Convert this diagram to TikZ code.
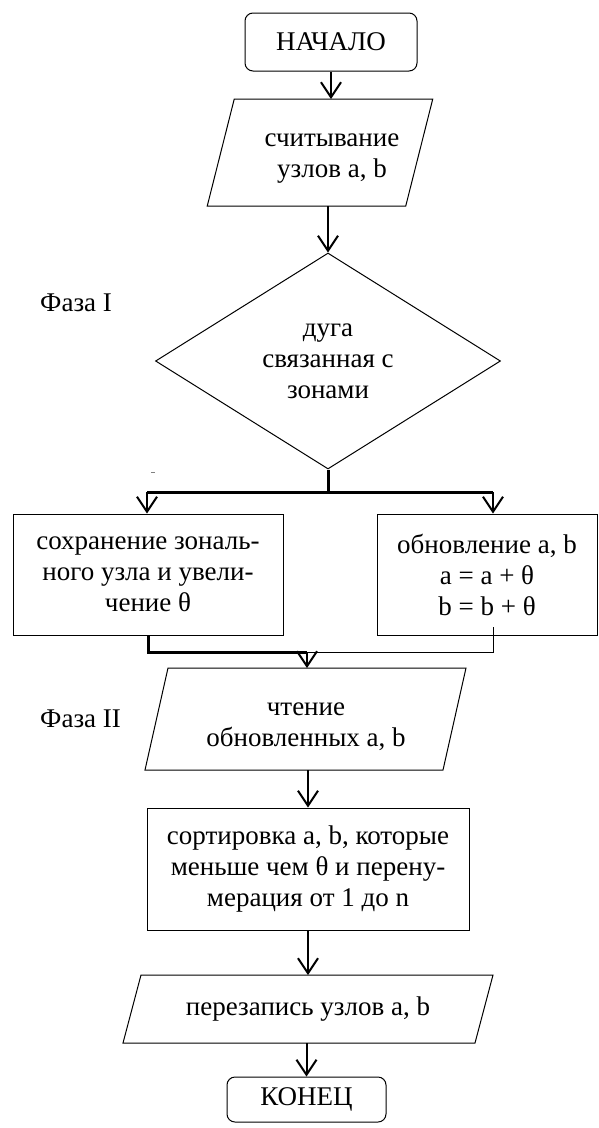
\documentclass[tikz,border=0pt]{standalone}
\usepackage{fontspec}
\setmainfont{Liberation Serif}
\usepackage{tikz}
\usetikzlibrary{arrows.meta,shapes.geometric}

% slanted frame round an io body node: name, half slant
\newcommand\ioframe[2]{\draw[line width=1pt] ([xshift=#2]#1.north west) -- ([xshift=#2]#1.north east)
  -- ([xshift=-#2]#1.south east) -- ([xshift=-#2]#1.south west) -- cycle;}

\begin{document}
\begin{tikzpicture}[x=1pt,y=-1pt,font=\fontsize{27pt}{31pt}\selectfont,
  every node/.style={inner sep=2pt,align=center},
  term/.style={draw,rectangle,rounded corners=8pt,line width=1pt},
  io/.style={rectangle,outer sep=0pt},
  proc/.style={draw,rectangle,line width=1pt},
  cond/.style={draw,diamond,shape aspect=1.6,inner sep=0pt,line width=1pt},
  flow/.style={line width=2pt,-{Straight Barb[length=15pt,width=20pt]}},
  bus/.style={line width=3pt},
  thinbus/.style={line width=1pt}]
\useasboundingbox (0,0) rectangle (598,1128);

\node[term,minimum width=172pt,minimum height=58pt] (start) at (331,42) {НАЧАЛО};
\node[io,minimum width=198.5pt,minimum height=107pt] (in1) at (320,152.5) {};
\ioframe{in1}{13.5}
\node (in1txt) at (332,159) {считывание\\узлов a, b};
\node[cond,minimum width=345pt,minimum height=216pt] (zone) at (328,361) {дуга\\связанная с\\зонами};
\node[anchor=base west,inner sep=0pt] (ph1) at (40,311) {Фаза I};

\node[proc,minimum width=270pt,minimum height=121pt] (keep) at (148,574.5) {сохранение зональ-\\ного узла и увели-\\чение θ};
\node[proc,minimum width=220pt,minimum height=121pt] (upd) at (487,574.5) {обновление a, b\\a = a + θ\\b = b + θ};

\node[io,minimum width=298pt,minimum height=102pt] (in2) at (305.5,719) {};
\ioframe{in2}{11.5}
\node (in2txt) at (306,727) {чтение\\обновленных a, b};
\node[anchor=base west,inner sep=0pt] (ph2) at (40,727) {Фаза II};
\node[proc,minimum width=322pt,minimum height=122pt] (sort) at (308,869) {сортировка a, b, которые\\меньше чем θ и перену-\\мерация от 1 до n};
\node[io,minimum width=352pt,minimum height=68pt] (out) at (308,1009) {перезапись узлов a, b};
\ioframe{out}{9}
\node[term,minimum width=159pt,minimum height=45pt] (stop) at (306.5,1099.5) {КОНЕЦ};

\coordinate (split) at (328,492);
\coordinate (lsplit) at (147,492);
\coordinate (rsplit) at (493,492);
\coordinate (rout) at (493,627);
\coordinate (join) at (307,652);

\draw[flow] (start.south) -- (start.south |- in1.north);
\draw[flow] (zone.north |- in1.south) -- (zone.north);
\draw[bus] (zone.south) -- (split);
\draw[bus] (lsplit) -- (rsplit);
\draw[flow] (lsplit) -- (lsplit |- keep.north);
\draw[flow] (rsplit) -- (rsplit |- upd.north);
\draw[bus] (keep.south) -- (keep.south |- join) -- (join);
\draw[thinbus] (rout) -- (rout |- join) -- (join);
\draw[flow] (join) -- (join |- in2.north);
\draw[flow] (sort.north |- in2.south) -- (sort.north);
\draw[flow] (sort.south) -- (sort.south |- out.north);
\draw[flow] (stop.north |- out.south) -- (stop.north);
\draw[gray,line width=0.6pt] (151,472) -- (155,472);
\end{tikzpicture}
\end{document}
